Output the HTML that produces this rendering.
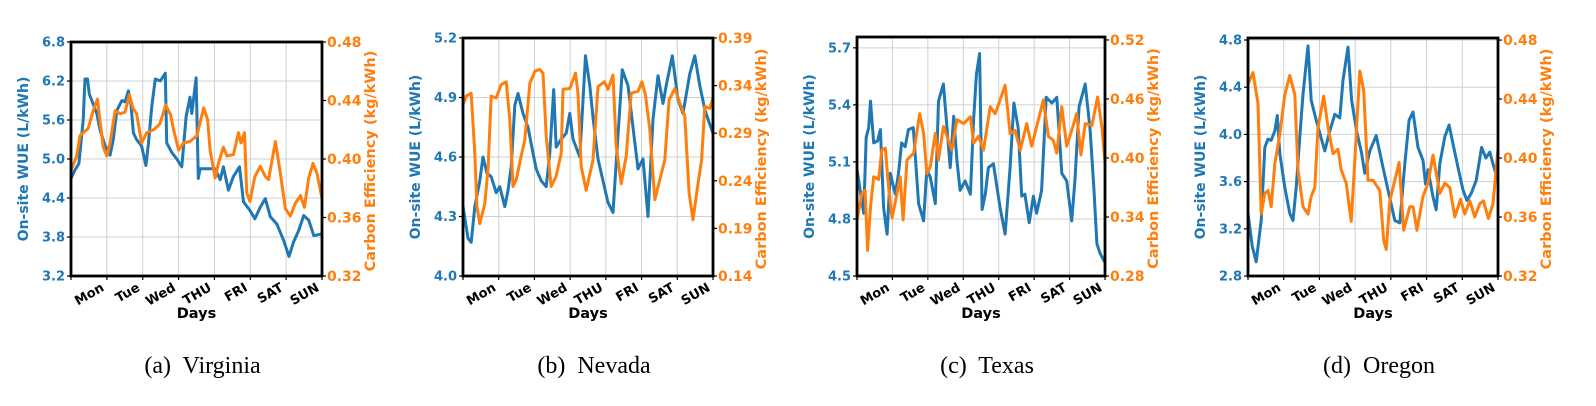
<!DOCTYPE html>
<html><head><meta charset="utf-8"><style>
body{margin:0;background:#fff;width:1596px;height:406px;overflow:hidden}
svg{display:block}
text{font-family:"DejaVu Sans","Liberation Sans",sans-serif}
.cap{font-family:"Liberation Serif",serif;font-size:24px}
</style></head><body>
<svg id="fig" width="1596" height="406" xmlns="http://www.w3.org/2000/svg"></svg>
<script>
const dayLabels=["Mon","Tue","Wed","THU","FRI","SAT","SUN"];
const vaDays=[0,0.11,0.22,0.34,0.39,0.46,0.51,0.58,0.72,0.81,0.95,1.09,1.18,1.28,1.42,1.51,1.6,1.67,1.74,1.83,1.97,2.09,2.16,2.25,2.35,2.49,2.63,2.67,2.81,2.95,3.09,3.21,3.32,3.37,3.49,3.55,3.6,4.02,4.16,4.25,4.39,4.53,4.7,4.81,4.99,5.13,5.28,5.42,5.56,5.74,5.93,6.08,6.21,6.35,6.49,6.63,6.77,7];
const vaWue=[4.7,4.83,4.93,5.6,6.23,6.23,6.0,5.9,5.7,5.45,5.2,5.06,5.3,5.75,5.9,5.88,6.05,5.85,5.4,5.3,5.2,4.9,5.25,5.8,6.23,6.2,6.32,5.25,5.1,5.0,4.88,5.65,5.95,5.7,6.25,4.7,4.85,4.85,4.68,4.88,4.52,4.73,4.88,4.34,4.21,4.08,4.26,4.39,4.11,4.0,3.75,3.5,3.73,3.9,4.13,4.06,3.82,3.85];
const vaCDays=[0,0.16,0.25,0.39,0.48,0.62,0.74,0.81,0.9,1.0,1.09,1.23,1.37,1.51,1.63,1.72,1.83,1.97,2.11,2.3,2.48,2.64,2.78,2.86,3.0,3.14,3.32,3.51,3.7,3.81,3.88,4.02,4.11,4.25,4.35,4.53,4.67,4.74,4.84,4.9,4.99,5.13,5.28,5.42,5.51,5.7,5.84,5.98,6.12,6.26,6.4,6.51,6.63,6.75,6.86,7];
const vaCarbon=[0.392,0.402,0.416,0.419,0.421,0.433,0.441,0.426,0.408,0.402,0.411,0.433,0.431,0.432,0.444,0.435,0.431,0.411,0.418,0.42,0.424,0.437,0.43,0.42,0.406,0.411,0.412,0.416,0.435,0.427,0.406,0.387,0.397,0.408,0.402,0.403,0.418,0.411,0.418,0.377,0.371,0.388,0.395,0.388,0.386,0.412,0.39,0.366,0.361,0.37,0.375,0.367,0.387,0.397,0.39,0.373];
const nvDays=[0,0.14,0.23,0.33,0.47,0.56,0.67,0.79,0.93,1.03,1.17,1.26,1.35,1.45,1.54,1.68,1.82,1.96,2.05,2.19,2.33,2.43,2.54,2.61,2.75,2.89,2.99,3.08,3.27,3.43,3.55,3.64,3.78,3.92,4.06,4.2,4.29,4.46,4.62,4.76,4.9,5.04,5.18,5.32,5.46,5.6,5.69,5.86,6.02,6.16,6.35,6.49,6.63,6.77,6.86,7];
const nvWue=[4.35,4.19,4.17,4.35,4.48,4.6,4.52,4.5,4.42,4.45,4.35,4.43,4.55,4.86,4.92,4.82,4.75,4.62,4.54,4.48,4.45,4.62,4.94,4.65,4.69,4.72,4.82,4.69,4.6,5.11,4.96,4.8,4.59,4.48,4.37,4.32,4.57,5.04,4.96,4.75,4.54,4.59,4.3,4.79,5.01,4.87,4.96,5.11,4.89,4.82,5.02,5.11,4.96,4.84,4.79,4.72];
const nvCDays=[0,0.09,0.23,0.33,0.39,0.47,0.61,0.7,0.79,0.93,1.07,1.21,1.31,1.4,1.49,1.63,1.73,1.87,2.01,2.15,2.24,2.33,2.47,2.61,2.75,2.8,2.99,3.15,3.22,3.31,3.45,3.64,3.78,3.96,4.06,4.2,4.29,4.43,4.57,4.71,4.9,5.01,5.11,5.23,5.37,5.51,5.65,5.77,5.93,6.07,6.21,6.33,6.44,6.57,6.68,6.77,6.91,7];
const nvCarbon=[0.32,0.329,0.332,0.269,0.213,0.195,0.216,0.252,0.329,0.327,0.341,0.344,0.304,0.234,0.241,0.266,0.283,0.342,0.355,0.357,0.353,0.287,0.234,0.245,0.269,0.336,0.337,0.353,0.332,0.255,0.23,0.262,0.339,0.344,0.336,0.351,0.276,0.237,0.266,0.332,0.334,0.344,0.33,0.294,0.22,0.241,0.262,0.325,0.337,0.322,0.308,0.227,0.199,0.234,0.262,0.318,0.316,0.327];
const txDays=[0,0.09,0.19,0.26,0.33,0.38,0.47,0.58,0.66,0.75,0.85,0.94,1.08,1.17,1.26,1.36,1.45,1.59,1.74,1.88,1.97,2.07,2.21,2.3,2.44,2.54,2.63,2.73,2.82,2.91,3.05,3.2,3.29,3.37,3.46,3.53,3.62,3.71,3.85,4.04,4.18,4.32,4.43,4.55,4.65,4.74,4.86,4.98,5.07,5.21,5.34,5.5,5.64,5.78,5.92,6.06,6.15,6.27,6.44,6.58,6.69,6.77,6.86,7];
const txWue=[5.06,4.95,4.83,5.23,5.28,5.42,5.2,5.21,5.27,4.86,4.72,5.04,4.93,5.04,5.2,5.18,5.27,5.28,4.88,4.79,5.06,5.02,4.88,5.42,5.51,5.28,5.07,5.34,5.11,4.95,5.0,4.93,5.32,5.56,5.67,4.85,4.93,5.07,5.09,4.86,4.72,5.07,5.41,5.28,4.92,4.93,4.78,4.92,4.83,4.95,5.44,5.41,5.44,5.04,5.0,4.79,5.0,5.39,5.51,5.27,4.95,4.67,4.62,4.57];
const txCDays=[0,0.14,0.23,0.3,0.38,0.47,0.61,0.7,0.8,0.89,0.99,1.13,1.22,1.3,1.41,1.6,1.77,1.88,1.97,2.07,2.21,2.3,2.44,2.68,2.82,3.01,3.2,3.29,3.43,3.57,3.76,3.9,4.04,4.18,4.32,4.46,4.61,4.79,4.93,5.12,5.26,5.4,5.54,5.64,5.78,5.92,6.06,6.2,6.32,6.44,6.63,6.79,6.91,7];
const txCarbon=[0.337,0.364,0.367,0.306,0.35,0.381,0.378,0.408,0.41,0.371,0.339,0.364,0.381,0.337,0.398,0.405,0.445,0.425,0.384,0.391,0.425,0.398,0.432,0.408,0.439,0.435,0.442,0.415,0.422,0.408,0.452,0.445,0.459,0.474,0.425,0.428,0.408,0.435,0.412,0.439,0.459,0.422,0.418,0.405,0.452,0.412,0.428,0.445,0.403,0.435,0.433,0.462,0.432,0.396];
const orDays=[0,0.12,0.23,0.37,0.47,0.56,0.65,0.75,0.82,0.89,1.03,1.17,1.26,1.35,1.45,1.54,1.68,1.77,1.91,2.01,2.15,2.29,2.43,2.57,2.66,2.8,2.9,3.04,3.18,3.27,3.41,3.59,3.78,3.92,4.11,4.25,4.39,4.51,4.62,4.76,4.9,4.97,5.04,5.18,5.27,5.37,5.51,5.63,5.74,5.88,6.02,6.13,6.25,6.39,6.54,6.66,6.77,6.86,7];
const orWue=[3.33,3.05,2.92,3.27,3.89,3.96,3.95,4.03,4.16,3.84,3.55,3.33,3.27,3.55,3.98,4.34,4.75,4.29,4.12,4.01,3.86,4.03,4.17,4.14,4.46,4.74,4.29,4.03,3.84,3.67,3.86,3.99,3.72,3.53,3.27,3.25,3.75,4.12,4.19,3.89,3.78,3.58,3.7,3.47,3.36,3.75,3.98,4.08,3.92,3.72,3.53,3.44,3.5,3.61,3.89,3.8,3.85,3.75,3.61];
const orCDays=[0,0.14,0.28,0.37,0.47,0.56,0.65,0.75,0.89,1.03,1.17,1.31,1.4,1.54,1.68,1.77,1.87,1.96,2.12,2.24,2.38,2.52,2.61,2.75,2.89,2.99,3.13,3.24,3.36,3.5,3.69,3.8,3.87,3.97,4.11,4.23,4.36,4.53,4.62,4.73,4.9,5.04,5.18,5.37,5.51,5.65,5.79,5.95,6.07,6.21,6.35,6.49,6.59,6.73,6.86,7];
const orCarbon=[0.45,0.458,0.437,0.362,0.376,0.378,0.367,0.396,0.416,0.443,0.456,0.443,0.392,0.367,0.362,0.374,0.38,0.421,0.442,0.421,0.403,0.406,0.392,0.383,0.357,0.398,0.459,0.446,0.385,0.385,0.378,0.344,0.338,0.371,0.385,0.397,0.351,0.367,0.367,0.351,0.374,0.383,0.402,0.376,0.383,0.38,0.36,0.372,0.362,0.371,0.36,0.369,0.371,0.359,0.369,0.406];
const leftTicks=[[3.2,3.8,4.4,5.0,5.6,6.2,6.8],[4.0,4.3,4.6,4.9,5.2],[4.5,4.8,5.1,5.4,5.7],[2.8,3.2,3.6,4.0,4.4,4.8]];
const rightTicks=[[0.32,0.36,0.40,0.44,0.48],[0.14,0.19,0.24,0.29,0.34,0.39],[0.28,0.34,0.40,0.46,0.52],[0.32,0.36,0.40,0.44,0.48]];
const captions=["(a)  Virginia","(b)  Nevada","(c)  Texas","(d)  Oregon"];

const panels=[
 {id:"virginia",x0:71,x1:322,y0:42,y1:276,ld:[3.2,6.8],rd:[0.32,0.48],lt:leftTicks[0],rt:rightTicks[0],wx:vaDays,wy:vaWue,cx:vaCDays,cy:vaCarbon,cap:captions[0]},
 {id:"nevada",x0:463,x1:713,y0:38,y1:276,ld:[4.0,5.2],rd:[0.14,0.39],lt:leftTicks[1],rt:rightTicks[1],wx:nvDays,wy:nvWue,cx:nvCDays,cy:nvCarbon,cap:captions[1]},
 {id:"texas",x0:857,x1:1105,y0:37,y1:276,ld:[4.5,5.757],rd:[0.28,0.523],lt:leftTicks[2],rt:rightTicks[2],wx:txDays,wy:txWue,cx:txCDays,cy:txCarbon,cap:captions[2]},
 {id:"oregon",x0:1248,x1:1498,y0:38,y1:276,ld:[2.8,4.817],rd:[0.32,0.4814],lt:leftTicks[3],rt:rightTicks[3],wx:orDays,wy:orWue,cx:orCDays,cy:orCarbon,cap:captions[3]}
];
const NS="http://www.w3.org/2000/svg";
const svg=document.getElementById('fig');
function mk(tag,attrs,parent,txt){const e=document.createElementNS(NS,tag);for(const k in attrs)e.setAttribute(k,attrs[k]);if(txt!==undefined)e.textContent=txt;parent.appendChild(e);return e;}
const BLUE="#1f77b4",ORANGE="#ff7f0e";
panels.forEach(p=>{
 const g=mk('g',{},svg);
 
 
 const X=d=>p.x0+(d/7)*(p.x1-p.x0);
 const YL=v=>p.y1-(v-p.ld[0])/(p.ld[1]-p.ld[0])*(p.y1-p.y0);
 const YR=v=>p.y1-(v-p.rd[0])/(p.rd[1]-p.rd[0])*(p.y1-p.y0);
 for(let i=1;i<=7;i++){const l=mk('line',{x1:X(i),x2:X(i),y1:p.y0,y2:p.y1,stroke:"#d0d0d0","stroke-width":1},g);
  }
 p.lt.forEach(v=>{const l=mk('line',{x1:p.x0,x2:p.x1,y1:YL(v),y2:YL(v),stroke:"#d0d0d0","stroke-width":1},g);
  });
 const pw=p.wx.map((d,i)=>X(d).toFixed(1)+","+YL(p.wy[i]).toFixed(1)).join(" ");
 const lw=mk('polyline',{points:pw,fill:"none",stroke:BLUE,"stroke-width":3,"stroke-linejoin":"round"},g);
 
 const pc=p.cx.map((d,i)=>X(d).toFixed(1)+","+YR(p.cy[i]).toFixed(1)).join(" ");
 const lc=mk('polyline',{points:pc,fill:"none",stroke:ORANGE,"stroke-width":3,"stroke-linejoin":"round"},g);
 
 const fr=mk('rect',{x:p.x0,y:p.y0,width:p.x1-p.x0,height:p.y1-p.y0,fill:"none",stroke:"#000","stroke-width":2.8},g);
 
 p.lt.forEach(v=>{const y=YL(v);
  mk('line',{x1:p.x0-4,x2:p.x0,y1:y,y2:y,stroke:"#000","stroke-width":1.2},g);
  const t=mk('text',{x:p.x0-6,y:y+4.5,"text-anchor":"end","font-size":"13","font-weight":"bold",fill:BLUE},g,v.toFixed(1));
  });
 p.rt.forEach(v=>{const y=YR(v);
  mk('line',{x1:p.x1,x2:p.x1+4,y1:y,y2:y,stroke:"#000","stroke-width":1.2},g);
  const t=mk('text',{x:p.x1+5,y:y+5,"text-anchor":"start","font-size":"14","font-weight":"bold",fill:ORANGE},g,v.toFixed(2));
  });
 for(let i=0;i<=7;i++) mk('line',{x1:X(i),x2:X(i),y1:p.y1,y2:p.y1+4,stroke:"#000","stroke-width":1.2},g);
 dayLabels.forEach((lab,i)=>{const x=X(i+1)-2,y=p.y1+14;
  const t=mk('text',{x:x,y:y,"text-anchor":"end","font-size":"13","font-weight":"bold",fill:"#000",transform:`rotate(-30 ${x} ${y})`},g,lab);
  });
 const xt=mk('text',{x:(p.x0+p.x1)/2,y:318,"text-anchor":"middle","font-size":"14.5","font-weight":"bold",fill:"#000"},g,"Days");
 
 const cy=(p.y0+p.y1)/2;
 const lx=p.x0-43;
 const yl=mk('text',{x:lx,y:cy,"text-anchor":"middle","font-size":"14","font-weight":"bold",fill:BLUE,transform:`rotate(-90 ${lx} ${cy})`},g,"On-site WUE (L/kWh)");
 
 const rx=p.x1+53;
 const yr=mk('text',{x:rx,y:cy+2,"text-anchor":"middle","font-size":"14.5","font-weight":"bold",fill:ORANGE,transform:`rotate(-90 ${rx} ${cy+2})`},g,"Carbon Efficiency (kg/kWh)");
 
 const cp=mk('text',{x:(p.x0+p.x1)/2+6,y:373,"text-anchor":"middle","class":"cap",fill:"#000"},g,p.cap);
 
 cp.style.whiteSpace="pre";
});
</script>
</body></html>
